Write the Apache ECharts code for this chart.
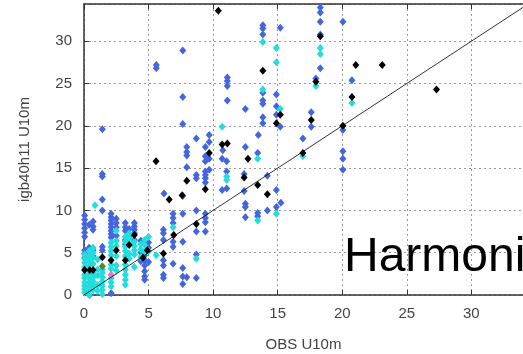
<!DOCTYPE html>
<html><head><meta charset="utf-8">
<script src="https://cdn.jsdelivr.net/npm/echarts@6/dist/echarts.min.js"></script>
<style>html,body{margin:0;padding:0;background:#fff}#c{width:523px;height:354px}</style>
</head><body><div id="c"></div>
<script>
const bluePts = [
[1.42,19.6],[5.6,27.2],[5.6,26.8],[7.65,28.9],[7.65,23.4],[7.65,20.2],
[11.1,25.7],[11.1,25.3],[11.1,24.7],[11.1,23.0],
[13.85,31.9],[13.85,31.5],[13.85,30.8],[15.2,31.6],
[13.85,23.9],[13.85,23.0],[13.85,22.6],[13.85,21.0],[13.85,20.3],
[14.9,23.7],[14.9,22.3],[14.9,21.3],[15.2,19.9],[12.5,22.0],
[18.3,34.0],[18.3,33.4],[18.3,32.3],[18.3,30.8],[18.3,26.8],[17.96,25.6],[17.6,21.6],[17.6,19.9],[16.95,18.5],
[20.05,32.3],[20.75,25.4],[20.05,19.5],[20.05,17.0],[20.05,16.1],[20.05,14.8],
[8.7,18.5],[9.7,18.9],[9.7,18.1],[13.5,18.9],[12.5,17.5],[9.4,17.5],[10.75,17.1],[10.7,16.1],[11.05,15.8],[13.45,16.8],
[7.96,17.5],[7.96,16.9],[7.96,16.5],[7.96,15.1],
[9.4,16.4],[9.7,16.1],[9.4,15.8],
[1.42,14.3],[1.42,14.0],[1.42,11.3],[6.2,12.0],
[9.4,14.6],[9.4,14.2],[9.4,13.8],[9.4,13.3],[9.7,14.8],[8.7,14.2],[8.7,13.8],
[11.05,14.6],[12.4,14.3],[10.7,12.4],[11.05,12.6],[14.2,14.1],[14.9,12.4],[12.4,12.3],[7.65,11.7],
[12.5,10.8],[12.5,10.4],[12.5,9.2],[13.45,9.7],[13.45,9.3],
[14.2,10.0],[14.9,10.4],[15.25,10.9],
[8.7,10.0],[9.4,9.6],[9.4,9.1],[9.4,8.6],[9.4,7.5],[8.7,7.5],[7.65,9.6],[7.65,6.3],[8.7,4.8],[8.7,2.0],
[7.65,3.2],[7.65,2.2],[7.65,1.3],[7.96,2.1],
[6.9,9.6],[6.9,9.1],[6.9,8.5],[6.9,6.3],[6.9,5.7],[6.9,3.7],
[6.15,7.7],[6.15,7.3],[6.15,6.5],[6.15,4.1],[6.15,3.5],[6.15,2.4],[6.15,2.0],
[0.05,9.4],[0.05,8.9],[0.05,8.4],[0.05,7.9],[0.05,7.4],[0.05,6.9],[0.05,5.3],[0.05,4.9],[0.05,4.4],
[0.4,8.3],[0.4,5.6],[0.44,0.0],
[0.7,8.7],[0.7,8.1],[0.7,7.7],[0.7,5.3],[0.7,4.6],
[1.42,10.0],[1.42,5.7],[1.42,5.3],
[2.1,9.6],[2.1,9.2],[2.1,8.8],[2.1,8.4],[2.1,8.0],[2.1,7.6],[2.1,7.2],[2.1,6.8],[2.1,0.2],
[2.5,9.0],[2.5,8.5],[2.5,8.0],[2.5,7.0],
[3.2,8.5],[3.2,8.0],[3.2,7.6],[3.2,6.5],[3.2,6.0],
[3.5,7.8],[3.5,6.9],
[3.9,8.5],[3.9,8.1],[3.9,7.7],[3.9,7.3],[3.9,6.5],
[4.4,6.4],[4.4,5.0],[4.4,4.0],
[4.7,4.7],[4.7,4.1],[4.7,3.5],[4.7,2.8],[4.7,2.2],[4.7,1.8],
[5.0,6.2],[5.0,5.6],[5.0,3.9]
];
const cyanPts = [
[13.85,29.9],[14.9,29.2],[14.9,27.5],[13.85,24.3],[15.2,22.0],[10.7,19.9],[13.45,16.1],[16.95,16.4],
[18.3,29.2],[18.3,28.5],[17.96,24.7],[20.75,22.7],[11.05,14.0],[11.05,13.6],[13.45,8.8],[14.9,9.6],
[8.7,4.3],[0.85,10.6],[5.6,4.7],[6.9,8.0],
[0.05,4.8],[0.05,4.3],[0.05,3.8],[0.05,3.3],[0.05,2.4],[0.05,2.0],[0.05,1.5],[0.05,1.1],[0.05,0.7],[0.05,0.3],
[0.4,5.2],[0.4,4.6],[0.4,4.0],[0.4,3.5],[0.4,2.5],[0.4,2.0],[0.4,1.5],[0.4,1.0],[0.4,0.5],[0.4,0.0],
[0.7,5.6],[0.7,5.0],[0.7,4.4],[0.7,3.7],[0.7,2.6],[0.7,2.1],[0.7,1.6],[0.7,1.1],[0.7,0.6],
[1.05,4.2],[1.05,3.0],[1.05,2.3],[1.05,1.2],[1.05,0.5],
[1.42,3.0],[1.42,2.6],[1.42,2.1],[1.42,1.6],[1.42,1.1],[1.42,0.6],[1.42,0.1],
[2.1,6.2],[2.1,5.7],[2.1,5.2],[2.1,4.7],[2.1,3.6],[2.1,3.1],[2.1,2.0],[2.1,1.5],[2.1,1.0],
[2.5,7.6],[2.5,6.4],[2.5,5.8],[2.5,4.6],[2.5,3.5],[2.5,2.9],
[3.2,6.9],[3.2,6.3],[3.2,5.7],[3.2,5.2],[3.2,4.6],[3.2,3.6],[3.2,3.0],[3.2,2.4],[3.2,1.8],[3.2,1.2],
[3.5,7.3],[3.5,6.7],[3.5,6.1],[3.5,4.9],[3.5,4.3],
[3.9,6.3],[3.9,5.8],[3.9,5.3],[3.9,4.8],[3.9,3.3],
[4.4,6.0],[4.4,5.4],[4.4,4.5],
[4.7,6.5],[4.7,5.9],[4.7,5.1],
[5.0,6.9],[5.0,5.2]
];
const blackPts = [
[10.4,33.6],[13.85,26.5],[10.7,17.8],[11.1,17.9],[12.7,16.1],[9.7,16.8],[16.95,16.8],[15.2,21.3],[14.9,20.3],
[18.3,30.6],[17.96,25.2],[17.6,20.7],[21.05,27.2],[23.1,27.2],[20.75,23.4],[27.3,24.3],[20.05,20.0],
[5.58,15.8],[7.96,13.5],[6.6,11.3],[7.6,11.8],[9.4,12.5],[12.4,13.9],[13.45,13.0],[14.2,11.9],[8.7,8.4],
[6.95,7.1],[6.15,4.9],[0.05,2.95],[0.44,2.95],[0.7,2.95],[1.42,4.45],[2.1,4.1],[2.5,5.3],[3.2,4.1],
[3.5,5.9],[3.9,7.1],[4.57,4.4],[4.9,5.3]
];
const greenPts = [[1.42,3.4]];
const pinkPts = [[2.1,2.4]];
const diagEnds = [0, 40];
const xTitle = 'OBS U10m';
const yTitle = 'igb40h11 U10m';
const overlayText = 'Harmoni';

const chart = echarts.init(document.getElementById('c'));
const FONT = '"Liberation Sans", Arial, sans-serif';
const axisCommon = (pos) => ({
  type: 'value', min: 0, interval: 5, position: pos,
  axisLine: { show: true, onZero: false, lineStyle: { color: '#333', width: 1.5 } },
  axisTick: { show: true, inside: true, length: 5, lineStyle: { color: '#333', width: 1 } },
  axisLabel: { color: '#333', fontSize: 15, fontFamily: FONT, showMaxLabel: false },
  splitLine: { show: false }
});
const sym = (data, color, z) => ({
  type: 'scatter', data, symbol: 'diamond', symbolSize: [7, 8],
  itemStyle: { color, opacity: 1 }, z, silent: true, animation: false
});
chart.setOption({
  animation: false,
  backgroundColor: '#fff',
  grid: { left: 84, top: 4, right: 0, bottom: 59, containLabel: false, outerBoundsMode: 'none' },
  xAxis: [
    Object.assign(axisCommon('bottom'), {
      max: 34,
      axisLabel: { color: '#444', fontSize: 15, fontFamily: FONT, showMaxLabel: false, margin: 11 },
      splitLine: { show: true, lineStyle: { color: '#999', type: [2, 3], width: 1 } },
      name: xTitle, nameLocation: 'middle', nameGap: 42,
      nameTextStyle: { color: '#444', fontSize: 15, fontFamily: FONT }
    }),
    Object.assign(axisCommon('top'), { max: 34, axisLabel: { show: false } })
  ],
  yAxis: [
    Object.assign(axisCommon('left'), {
      max: 34.4,
      axisLabel: { color: '#444', fontSize: 15, fontFamily: FONT, showMaxLabel: false, margin: 12 },
      splitLine: { show: true, lineStyle: { color: '#999', type: [2, 3], width: 1 } },
      name: yTitle, nameLocation: 'middle', nameGap: 52, nameRotate: 90,
      nameTextStyle: { color: '#444', fontSize: 15, fontFamily: FONT }
    })
  ],
  series: [
    sym(bluePts, '#4466dd', 2),
    sym(cyanPts, '#22dddd', 3),
    sym(greenPts, '#55882a', 4),
    sym(pinkPts, '#dd77dd', 4),
    { type: 'line', data: diagEnds.map(v => [v, v]), symbol: 'none', clip: true,
      lineStyle: { color: '#000', width: 0.8 }, z: 5, silent: true, animation: false },
    sym(blackPts, '#000000', 6)
  ],
  graphic: [{
    type: 'text', left: 344, top: 234, z: 100,
    style: { text: overlayText, font: '48px ' + FONT, fill: '#000' }
  }]
});
</script></body></html>
